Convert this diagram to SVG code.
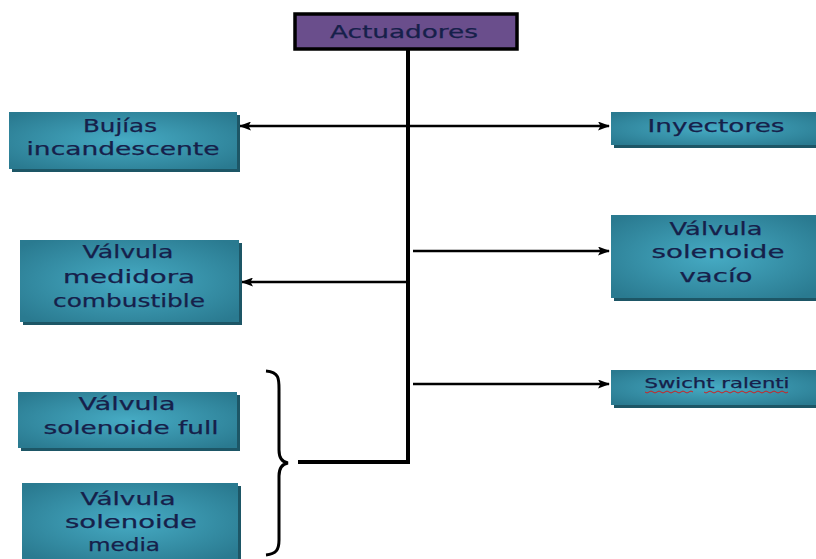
<svg xmlns="http://www.w3.org/2000/svg" width="816" height="559" viewBox="0 0 816 559">
  <defs>
    <radialGradient id="teal" cx="50%" cy="50%" r="65%">
      <stop offset="0" stop-color="#46abc4"/>
      <stop offset="1" stop-color="#2a7a90"/>
    </radialGradient>
    <marker id="arrow" markerWidth="12" markerHeight="9" refX="11" refY="4.5" orient="auto" markerUnits="userSpaceOnUse">
      <path d="M0,0 L12,4.5 L0,9 L2.5,4.5 Z" fill="#000"/>
    </marker>
  </defs>
  <style>
    .box { fill: url(#teal); }
    .shadow { fill: #1d5666; }
    .label { font-family: "DejaVu Sans", Verdana, sans-serif; font-size: 18px; fill: #16204a; stroke: #16204a; stroke-width: 0.25; text-anchor: middle; }
    .wire { stroke: #000; stroke-width: 2.5; fill: none; }
    .trunk { stroke: #000; stroke-width: 4; fill: none; }
  </style>
  <rect width="816" height="559" fill="#fff"/>

  <!-- connectors -->
  <g id="connectors">
    <path class="trunk" d="M408,50 V462 H298"/>
    <line class="wire" x1="408" y1="126" x2="240" y2="126" marker-end="url(#arrow)"/>
    <line class="wire" x1="408" y1="126" x2="609" y2="126" marker-end="url(#arrow)"/>
    <line class="wire" x1="408" y1="282" x2="242" y2="282" marker-end="url(#arrow)"/>
    <line class="wire" x1="413" y1="251" x2="609" y2="251" marker-end="url(#arrow)"/>
    <line class="wire" x1="413" y1="384" x2="609" y2="384" marker-end="url(#arrow)"/>
    <!-- curly brace grouping the two lower solenoid valves -->
    <path d="M266,371 C280,372 279,380 279,392 L279,450 C279,458 282,462 288,463 C282,464 279,468 279,476 L279,540 C279,550 276,554 266,555" stroke="#000" stroke-width="3" fill="none"/>
  </g>

  <g id="actuadores">
    <rect x="295" y="14" width="222" height="35" fill="#6a4e8c" stroke="#000" stroke-width="3.5"/>
    <text class="label" x="404" y="38" textLength="148" lengthAdjust="spacingAndGlyphs">Actuadores</text>
  </g>

  <g id="bujias">
    <rect class="shadow" x="12" y="115" width="228" height="57"/>
    <rect class="box" x="9" y="112" width="228" height="57"/>
    <text class="label" x="120" y="132" textLength="74" lengthAdjust="spacingAndGlyphs">Bujías</text>
    <text class="label" x="123" y="155" textLength="193" lengthAdjust="spacingAndGlyphs">incandescente</text>
  </g>

  <g id="inyectores">
    <rect class="shadow" x="614" y="115" width="202" height="33"/>
    <rect class="box" x="611" y="112" width="205" height="33"/>
    <text class="label" x="716" y="132" textLength="137" lengthAdjust="spacingAndGlyphs">Inyectores</text>
  </g>

  <g id="medidora">
    <rect class="shadow" x="23" y="243" width="219" height="82"/>
    <rect class="box" x="20" y="240" width="219" height="82"/>
    <text class="label" x="128" y="258" textLength="91" lengthAdjust="spacingAndGlyphs">Válvula</text>
    <text class="label" x="129" y="283" textLength="132" lengthAdjust="spacingAndGlyphs">medidora</text>
    <text class="label" x="129" y="307" textLength="152" lengthAdjust="spacingAndGlyphs">combustible</text>
  </g>

  <g id="vacio">
    <rect class="shadow" x="614" y="218" width="202" height="83"/>
    <rect class="box" x="611" y="215" width="205" height="83"/>
    <text class="label" x="716" y="235" textLength="93" lengthAdjust="spacingAndGlyphs">Válvula</text>
    <text class="label" x="718" y="258" textLength="133" lengthAdjust="spacingAndGlyphs">solenoide</text>
    <text class="label" x="716" y="282" textLength="73" lengthAdjust="spacingAndGlyphs">vacío</text>
  </g>

  <g id="ralenti">
    <rect class="shadow" x="614" y="373" width="202" height="35"/>
    <rect class="box" x="611" y="370" width="205" height="35"/>
    <text class="label" x="717" y="388" style="font-size:14px" textLength="145" lengthAdjust="spacingAndGlyphs">Swicht ralenti</text>
    <path d="M645,392 q2,2 4,0 t4,0 t4,0 t4,0 t4,0 t4,0 t4,0 t4,0 t4,0 t4,0 t4,0 t4,0 M704,392 q2,2 4,0 t4,0 t4,0 t4,0 t4,0 t4,0 t4,0 t4,0 t4,0 t4,0 t4,0 t4,0 t4,0 t4,0 t4,0 t4,0 t4,0 t4,0 t4,0 t4,0 t4,0" stroke="#d02020" stroke-width="1" fill="none"/>
  </g>

  <g id="full">
    <rect class="shadow" x="21" y="395" width="219" height="56"/>
    <rect class="box" x="18" y="392" width="219" height="56"/>
    <text class="label" x="127" y="410" textLength="97" lengthAdjust="spacingAndGlyphs">Válvula</text>
    <text class="label" x="131" y="434" textLength="175" lengthAdjust="spacingAndGlyphs">solenoide full</text>
  </g>

  <g id="media">
    <rect class="shadow" x="25" y="486" width="216" height="76"/>
    <rect class="box" x="22" y="483" width="216" height="76"/>
    <text class="label" x="128" y="505" textLength="95" lengthAdjust="spacingAndGlyphs">Válvula</text>
    <text class="label" x="131" y="528" textLength="132" lengthAdjust="spacingAndGlyphs">solenoide</text>
    <text class="label" x="124" y="551" textLength="72" lengthAdjust="spacingAndGlyphs">media</text>
  </g>
</svg>
